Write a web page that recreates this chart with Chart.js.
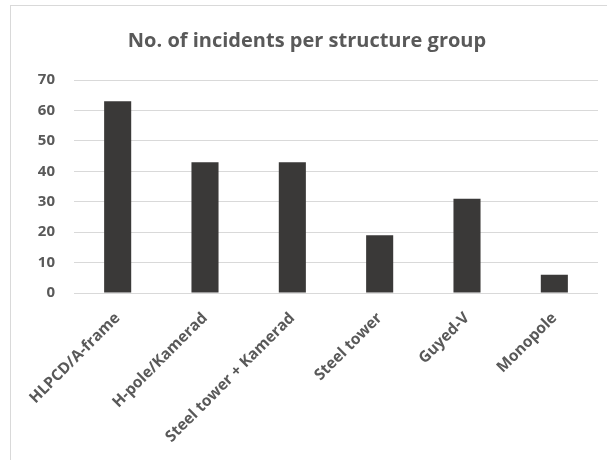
<!DOCTYPE html>
<html>
<head>
<meta charset="utf-8">
<script src="https://cdn.jsdelivr.net/npm/chart.js@4.4.0/dist/chart.umd.min.js"></script>
<style>
html,body{margin:0;padding:0;background:#fff;overflow:hidden;}
#frame{position:absolute;left:10px;top:5px;width:700px;height:600px;border:1px solid #d9d9d9;box-sizing:border-box;}
#wrap{position:absolute;left:0;top:0;width:607px;height:460px;}
</style>
</head>
<body>
<div id="frame"></div>
<div id="wrap"><canvas id="c" width="607" height="460"></canvas></div>
<script>
const categories = ["HLPCD/A-frame","H-pole/Kamerad","Steel tower + Kamerad","Steel tower","Guyed-V","Monopole"];
const incidents = [63,43,43,19,31,6];
const yTicks = [0,10,20,30,40,50,60,70];
const chartTitle = "No. of incidents per structure group";

const FONT = "'Open Sans', sans-serif";
new Chart(document.getElementById('c'), {
  type: 'bar',
  data: {
    labels: categories,
    datasets: [{
      data: incidents,
      backgroundColor: '#3a3938',
      borderWidth: 0,
      barPercentage: 0.31,
      categoryPercentage: 1
    }]
  },
  options: {
    responsive: false,
    animation: false,
    devicePixelRatio: 1,
    layout: { padding: { left: 16, right: 9, top: 0, bottom: 0 } },
    plugins: {
      legend: { display: false },
      tooltip: { enabled: false },
      title: {
        display: true,
        text: chartTitle,
        color: '#595959',
        font: { family: FONT, size: 20, weight: 'bold' },
        padding: { top: 29, bottom: 27 }
      }
    },
    scales: {
      x: {
        grid: { display: false, drawTicks: false },
        border: { display: false },
        ticks: {
          color: '#595959',
          font: { family: FONT, size: 15.5, weight: 'bold' },
          maxRotation: 45, minRotation: 45,
          padding: 16
        },
        afterFit: (s) => { s.height = 460 - 293; }
      },
      y: {
        min: 0, max: 70,
        afterBuildTicks: (s) => { s.ticks = yTicks.map(v => ({ value: v })); },
        grid: { color: '#d9d9d9', lineWidth: 1, drawTicks: false },
        border: { display: false },
        ticks: {
          color: '#595959',
          font: { family: FONT, size: 15, weight: 'bold' },
          padding: 19
        },
        afterFit: (s) => { s.width = 58; }
      }
    }
  }
});
</script>
</body>
</html>
